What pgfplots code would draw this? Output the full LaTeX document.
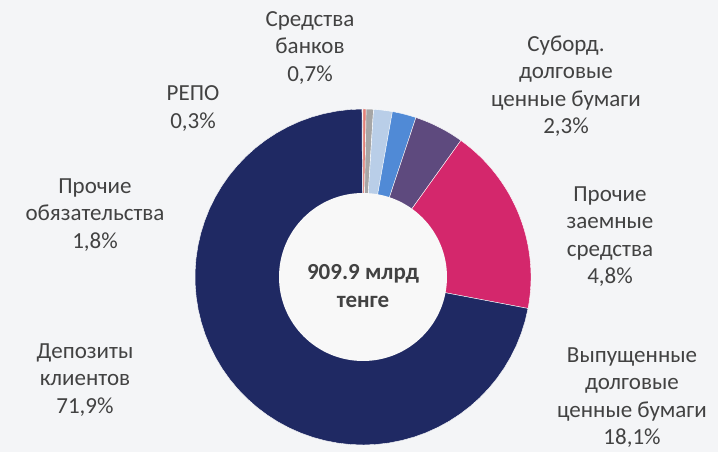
\documentclass[border=0pt]{standalone}
\usepackage{pgfplots}
\pgfplotsset{compat=1.18}
\usepackage{pgfplotstable}
\usepackage{fontspec}
\setmainfont{Carlito}

\definecolor{bgcol}{RGB}{244,245,247}
\definecolor{holecol}{RGB}{248,248,248}
\definecolor{txt}{RGB}{66,66,66}
\definecolor{cRepo}{RGB}{226,128,120}
\definecolor{cBank}{RGB}{166,166,166}
\definecolor{cOther}{RGB}{185,206,232}
\definecolor{cSub}{RGB}{80,138,214}
\definecolor{cLoan}{RGB}{94,74,126}
\definecolor{cIssued}{RGB}{212,39,108}
\definecolor{cDep}{RGB}{31,41,99}

% shares in percent, clockwise from 12 o'clock
\pgfplotstableread{
pct col
0.3 cRepo
0.7 cBank
1.8 cOther
2.3 cSub
4.8 cLoan
18.1 cIssued
71.9 cDep
}\shares

\begin{document}
\begin{tikzpicture}
\begin{axis}[
  hide axis, scale only axis,
  width=718pt, height=452pt,
  xmin=0, xmax=718, ymin=0, ymax=452,
  clip=false,
]
\fill[bgcol] (0,0) rectangle (718,452);

\pgfmathsetmacro\cum{0}
\pgfplotsforeachungrouped \i in {0,...,6}{
  \pgfplotstablegetelem{\i}{pct}\of\shares \let\p\pgfplotsretval
  \pgfplotstablegetelem{\i}{col}\of\shares \let\c\pgfplotsretval
  \pgfmathsetmacro\a{3.6*\cum}
  \pgfmathsetmacro\b{3.6*(\cum+\p)}
  \edef\doslice{\noexpand\addplot[fill=\c, draw=white, line width=0.4pt,
    domain=\a:\b, samples=60]
    ({363+168*sin(x)},{175+168*cos(x)}) -- (363,175) -- cycle;}
  \doslice
  \pgfmathsetmacro\cum{\cum+\p}
}
\fill[holecol] (363,175) circle[radius=84];

\begin{scope}[every node/.style={align=center, text=txt,
    font=\fontsize{23}{27.5}\selectfont}]
\node at (310,404) {Средства\\банков\\0,7\%};
\node at (193,343.5) {РЕПО\\0,3\%};
\node at (566,366) {Суборд.\\долговые\\ценные бумаги\\2,3\%};
\node at (95,237) {Прочие\\обязательства\\1,8\%};
\node at (610,215.5) {Прочие\\заемные\\средства\\4,8\%};
\node at (85,72) {Депозиты\\клиентов\\71,9\%};
\node at (632,54.5) {Выпущенные\\долговые\\ценные бумаги\\18,1\%};
\node[font=\bfseries\fontsize{23}{27.5}\selectfont] at (363,166) {909.9 млрд\\тенге};
\end{scope}
\end{axis}
\end{tikzpicture}
\end{document}
